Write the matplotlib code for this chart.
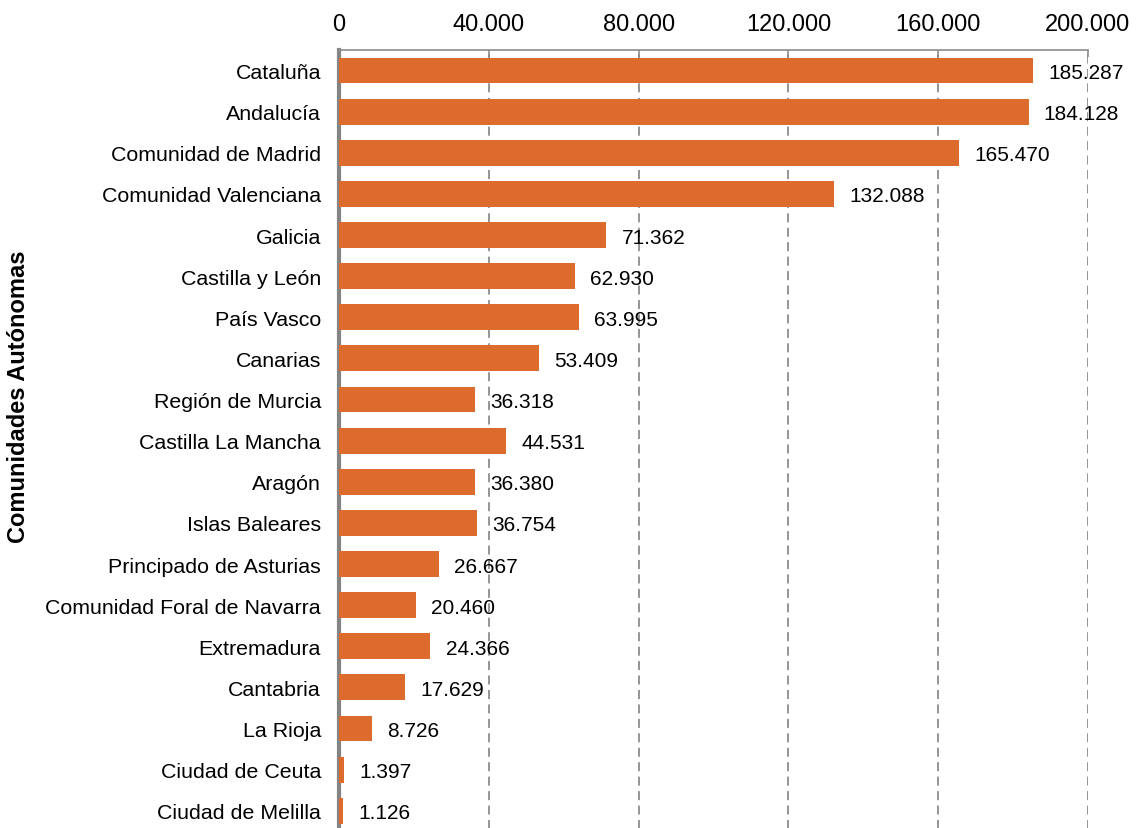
import matplotlib
matplotlib.use("Agg")
import matplotlib.pyplot as plt
from matplotlib.ticker import FuncFormatter

plt.rcParams['font.family'] = ['Liberation Sans', 'DejaVu Sans']

# data
regiones = ['Cataluña', 'Andalucía', 'Comunidad de Madrid', 'Comunidad Valenciana',
            'Galicia', 'Castilla y León', 'País Vasco', 'Canarias', 'Región de Murcia',
            'Castilla La Mancha', 'Aragón', 'Islas Baleares', 'Principado de Asturias',
            'Comunidad Foral de Navarra', 'Extremadura', 'Cantabria', 'La Rioja',
            'Ciudad de Ceuta', 'Ciudad de Melilla']
valores = [185287, 184128, 165470, 132088, 71362, 62930, 63995, 53409, 36318,
           44531, 36380, 36754, 26667, 20460, 24366, 17629, 8726, 1397, 1126]
x_ticks = [0, 40000, 80000, 120000, 160000, 200000]


def miles(v):
    return f"{int(v):,}".replace(",", ".")


fig = plt.figure(figsize=(11.38, 8.29), dpi=100)
ax = fig.add_axes([0.298, -0.004, 0.658, 0.9425])

pos = list(range(len(regiones)))
bars = ax.barh(pos, valores, height=0.63, color='#DD6B2D', zorder=3)
labs = ax.bar_label(bars, labels=[miles(v) for v in valores], padding=11, fontsize=15,
                    color='black')
for t in labs:
    t.set_y(-1.5)

ax.set_ylim(len(regiones) - 0.5, -0.5)
ax.set_xlim(0, 200000)
ax.set_yticks(pos)
ax.set_yticklabels(regiones, fontsize=15.4)
ax.set_xticks(x_ticks)
ax.xaxis.set_major_formatter(FuncFormatter(lambda v, p: miles(v)))
ax.xaxis.tick_top()
ax.tick_params(axis='x', direction='in', length=5, width=1.2, color='#8c8c8c',
               labelsize=17, pad=11)
ax.tick_params(axis='y', length=0, pad=13)

ax.xaxis.grid(True, linestyle=(0, (5, 3)), color='#8c8c8c', linewidth=1.3, zorder=0)
ax.set_axisbelow(True)

for side in ['right', 'bottom']:
    ax.spines[side].set_visible(False)
ax.spines['top'].set_color('#8c8c8c')
ax.spines['top'].set_linewidth(1.2)
ax.spines['left'].set_color('#848484')
ax.spines['left'].set_linewidth(3)

ax.set_ylabel('Comunidades Autónomas', fontsize=17, fontweight='bold')
ax.yaxis.set_label_coords(-0.4125, 0.557)

fig.savefig('out.png', dpi=100)
